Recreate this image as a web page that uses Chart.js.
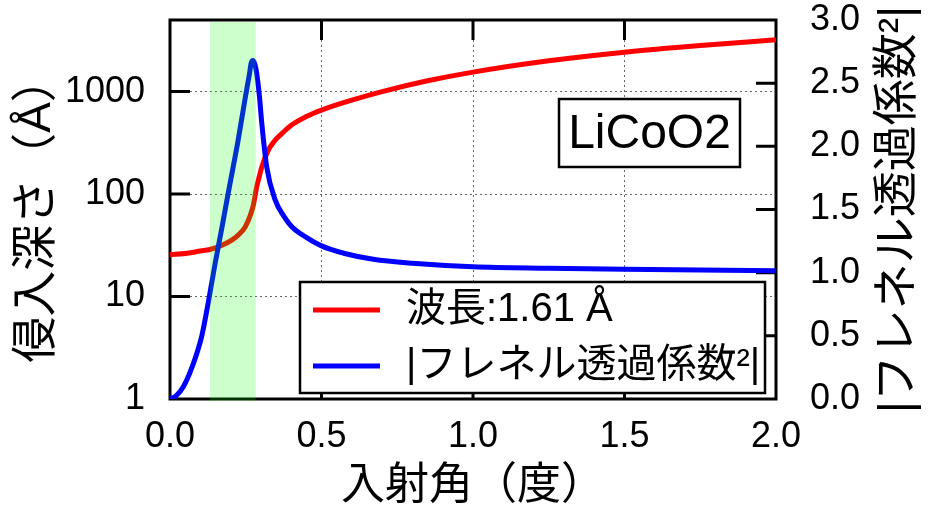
<!DOCTYPE html>
<html>
<head>
<meta charset="utf-8">
<script src="https://cdn.jsdelivr.net/npm/chart.js@4/dist/chart.umd.min.js"></script>
<style>
  html,body{margin:0;padding:0;background:#fff;}
  #wrap{width:933px;height:519px;}
</style>
</head>
<body>
<div id="wrap"><canvas id="c" width="933" height="519"></canvas></div>
<script>
// 侵入深さ (Å), left log axis
const depthAngle = [0, 0.05, 0.10, 0.132, 0.17, 0.204, 0.23, 0.248, 0.265, 0.275, 0.286, 0.295, 0.303, 0.324, 0.345, 0.369, 0.40, 0.446, 0.50, 0.60, 0.70, 0.85, 1.0, 1.25, 1.5, 1.75, 2.0];
const depthVal   = [25.7, 26.3, 27.8, 28.8, 31.5, 35.5, 41, 47.8, 62, 78, 117, 150, 184, 267, 330, 389, 470, 564, 660, 825, 1000, 1275, 1550, 2000, 2427, 2820, 3206];
// |フレネル透過係数²|, right axis
const transAngle = [0, 0.02, 0.044, 0.077, 0.105, 0.126, 0.149, 0.17, 0.193, 0.225, 0.248, 0.262, 0.268, 0.274, 0.28, 0.286, 0.295, 0.303, 0.319, 0.347, 0.375, 0.402, 0.446, 0.5, 0.58, 0.671, 0.8, 1.0, 1.25, 1.5, 1.75, 2.0];
const transVal   = [0, 0.025, 0.097, 0.28, 0.5, 0.76, 1.074, 1.34, 1.64, 2.05, 2.38, 2.57, 2.66, 2.68, 2.65, 2.58, 2.4, 2.18, 1.84, 1.576, 1.45, 1.364, 1.285, 1.212, 1.15, 1.106, 1.075, 1.047, 1.035, 1.027, 1.021, 1.016];

const xTicks = [0, 0.5, 1.0, 1.5, 2.0];
const yLeftTicks = [1, 10, 100, 1000];
const yRightTicks = [0, 0.5, 1.0, 1.5, 2.0, 2.5, 3.0];
const band = [0.132, 0.283];   // 緑の範囲
const sampleName = "LiCoO2";
const xTitle = "入射角（度）";
const yLeftTitle = "侵入深さ（Å）";
const yRightTitle = "|フレネル透過係数²|";

const FONT = "'Liberation Sans', 'Noto Sans CJK JP', sans-serif";
const pts = (xs, ys) => xs.map((x, i) => ({x, y: ys[i]}));
const noPad = s => { s.paddingTop = 0; s.paddingBottom = 0; s.paddingLeft = 0; s.paddingRight = 0; };

const deco = {
  id: "deco",
  beforeDatasetsDraw(chart) {
    const {ctx, chartArea: a, scales: {x, yL, yR}} = chart;
    ctx.save();
    ctx.strokeStyle = "#000"; ctx.lineWidth = 3; ctx.lineCap = "butt";
    ctx.beginPath();
    xTicks.slice(1, -1).forEach(v => {
      const px = x.getPixelForValue(v);
      ctx.moveTo(px, a.top); ctx.lineTo(px, a.top + 20);
      ctx.moveTo(px, a.bottom); ctx.lineTo(px, a.bottom - 20);
    });
    yLeftTicks.slice(1).forEach(v => {
      const py = yL.getPixelForValue(v);
      ctx.moveTo(a.left, py); ctx.lineTo(a.left + 20, py);
    });
    yRightTicks.slice(1, -1).forEach(v => {
      const py = yR.getPixelForValue(v);
      ctx.moveTo(a.right, py); ctx.lineTo(a.right - 20, py);
    });
    ctx.stroke();
    ctx.strokeRect(a.left, a.top, a.right - a.left, a.bottom - a.top);
    ctx.restore();
  },
  afterDatasetsDraw(chart) {
    const {ctx, chartArea: a, scales: {x}} = chart;
    ctx.save();
    // green band on top (tints the curves)
    const b0 = x.getPixelForValue(band[0]), b1 = x.getPixelForValue(band[1]);
    ctx.fillStyle = "rgba(0,255,0,0.2)";
    ctx.fillRect(b0, a.top + 2, b1 - b0, a.bottom - a.top);

    // legend box
    const lx = a.left + 130, ly = a.top + 262, lw = a.right - 11 - lx, lh = 111;
    ctx.fillStyle = "#fff"; ctx.fillRect(lx, ly, lw, lh);
    ctx.strokeStyle = "#000"; ctx.lineWidth = 2.5; ctx.strokeRect(lx, ly, lw, lh);
    chart.data.datasets.forEach((ds, i) => {
      const cy = ly + 28 + i * 56;
      ctx.strokeStyle = ds.borderColor; ctx.lineWidth = 5;
      ctx.beginPath(); ctx.moveTo(lx + 13, cy); ctx.lineTo(lx + 80, cy); ctx.stroke();
      ctx.fillStyle = "#000"; ctx.font = "40px " + FONT;
      ctx.textAlign = "left"; ctx.textBaseline = "middle";
      ctx.fillText(ds.label, lx + 106, cy);
    });

    // sample label box
    const sx = a.right - 36 - 181, sy = a.top + 79;
    ctx.fillStyle = "#fff"; ctx.fillRect(sx, sy, 181, 68);
    ctx.strokeStyle = "#000"; ctx.lineWidth = 2.5; ctx.strokeRect(sx, sy, 181, 68);
    ctx.fillStyle = "#000"; ctx.font = "48px " + FONT;
    ctx.textAlign = "center"; ctx.textBaseline = "middle";
    ctx.fillText(sampleName, sx + 90.5, sy + 36);
    ctx.restore();
  },
  afterDraw(chart) {
    const {ctx, chartArea: a} = chart;
    ctx.save();
    ctx.fillStyle = "#000"; ctx.textAlign = "center"; ctx.textBaseline = "middle";
    ctx.font = "44px " + FONT;
    ctx.fillText(xTitle, (a.left + a.right) / 2, 487);
    const cy = (a.top + a.bottom) / 2;
    ctx.font = "46px " + FONT;
    ctx.save(); ctx.translate(37, cy); ctx.rotate(-Math.PI / 2);
    ctx.fillText(yLeftTitle, 0, 0); ctx.restore();
    ctx.save(); ctx.translate(898, cy); ctx.rotate(-Math.PI / 2);
    ctx.fillText(yRightTitle, 0, 0); ctx.restore();
    ctx.restore();
  }
};

new Chart(document.getElementById("c"), {
  type: "line",
  data: {
    datasets: [
      { label: "波長:1.61 Å", data: pts(depthAngle, depthVal), yAxisID: "yL",
        borderColor: "#ff0000", borderWidth: 5, pointRadius: 0, cubicInterpolationMode: "monotone", order: 2 },
      { label: yRightTitle, data: pts(transAngle, transVal), yAxisID: "yR",
        borderColor: "#0000ff", borderWidth: 5, pointRadius: 0, cubicInterpolationMode: "monotone", order: 1 }
    ]
  },
  options: {
    responsive: false, animation: false, devicePixelRatio: 1,
    layout: { padding: { top: 20, left: 0, right: 0, bottom: 0 } },
    plugins: { legend: { display: false }, tooltip: { enabled: false } },
    scales: {
      x: {
        type: "linear", min: 0, max: 2,
        afterBuildTicks: s => { s.ticks = xTicks.map(v => ({value: v})); },
        afterFit: s => { s.height = 120; noPad(s); },
        border: { display: false, dash: [2, 3] },
        grid: { color: "#666", lineWidth: 1, drawTicks: false },
        ticks: { padding: 16, color: "#000", font: { family: FONT, size: 36 }, maxRotation: 0,
                 callback: v => Number(v).toFixed(1) }
      },
      yL: {
        type: "logarithmic", position: "left", min: 1, max: 5000,
        afterBuildTicks: s => { s.ticks = yLeftTicks.map(v => ({value: v})); },
        afterFit: s => { s.width = 170; noPad(s); },
        border: { display: false, dash: [2, 3] },
        grid: { color: "#666", lineWidth: 1, drawTicks: false },
        ticks: { padding: 25, color: "#000", font: { family: FONT, size: 36 }, callback: v => String(v) }
      },
      yR: {
        type: "linear", position: "right", min: 0, max: 3,
        afterBuildTicks: s => { s.ticks = yRightTicks.map(v => ({value: v})); },
        afterFit: s => { s.width = 157; noPad(s); },
        border: { display: false },
        grid: { display: false, drawTicks: false },
        ticks: { padding: 34, color: "#000", font: { family: FONT, size: 36 }, callback: v => Number(v).toFixed(1) }
      }
    }
  },
  plugins: [deco]
});
</script>
</body>
</html>
